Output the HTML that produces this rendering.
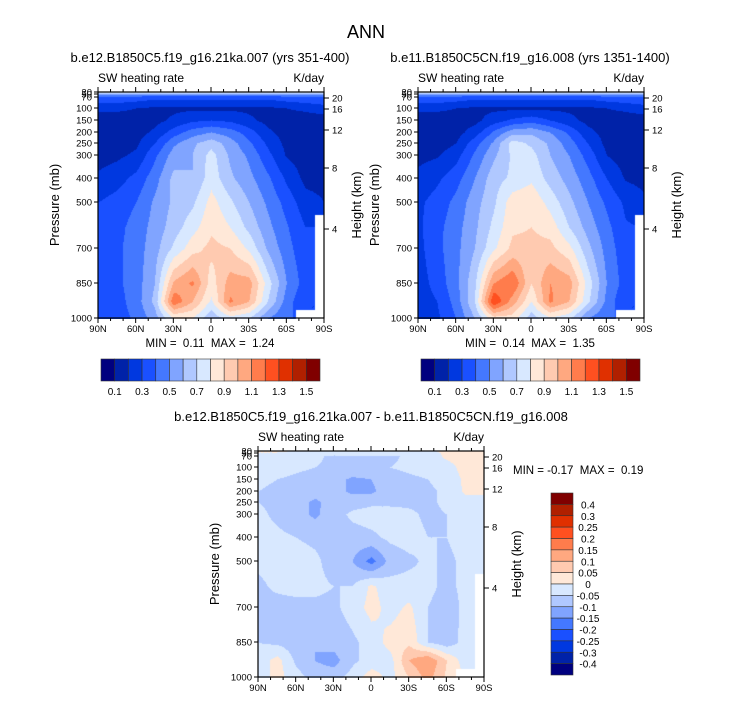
<!DOCTYPE html>
<html><head><meta charset="utf-8">
<style>
body{margin:0;background:#fff;}
#root{position:relative;width:733px;height:701px;overflow:hidden;font-family:"Liberation Sans",sans-serif;}
canvas{position:absolute;}
svg{position:absolute;left:0;top:0;}
</style></head>
<body>
<div id="root">
<canvas id="c1" width="226" height="227" style="left:98px;top:92px"></canvas>
<canvas id="c2" width="226" height="227" style="left:418px;top:92px"></canvas>
<canvas id="c3" width="226" height="227" style="left:258px;top:451px"></canvas>
<svg id="s" width="733" height="701"></svg>
</div>
<script>
// ---- data ----
const lats = [90,75,60,45,30,15,0,-15,-30,-45,-60,-75,-90];
const levels = [30,50,70,100,150,200,250,300,400,500,600,700,850,925,1000];
const N = null;
const field1 = [
[0.75,0.75,0.75,0.75,0.75,0.75,0.75,0.75,0.75,0.75,0.75,0.75,0.75],
[0.5,0.5,0.5,0.5,0.5,0.5,0.5,0.5,0.5,0.5,0.5,0.5,0.5],
[0.38,0.38,0.36,0.33,0.33,0.33,0.33,0.33,0.33,0.33,0.36,0.38,0.4],
[0.22,0.22,0.2,0.18,0.18,0.18,0.18,0.18,0.18,0.18,0.2,0.22,0.25],
[0.15,0.15,0.15,0.17,0.22,0.28,0.3,0.28,0.22,0.17,0.15,0.15,0.15],
[0.15,0.15,0.16,0.22,0.35,0.45,0.5,0.45,0.35,0.22,0.16,0.15,0.15],
[0.15,0.15,0.18,0.3,0.48,0.58,0.66,0.55,0.42,0.28,0.17,0.15,0.15],
[0.16,0.18,0.22,0.38,0.55,0.6,0.74,0.58,0.48,0.33,0.19,0.15,0.15],
[0.22,0.26,0.33,0.46,0.63,0.6,0.76,0.62,0.53,0.42,0.28,0.17,0.17],
[0.3,0.34,0.4,0.52,0.62,0.68,0.84,0.72,0.6,0.48,0.36,0.24,0.2],
[0.32,0.37,0.44,0.54,0.65,0.76,0.88,0.8,0.67,0.53,0.41,0.3,N],
[0.33,0.38,0.45,0.56,0.72,0.86,0.93,0.9,0.78,0.58,0.44,0.32,N],
[0.33,0.38,0.45,0.6,1.02,1.12,0.85,1.05,1.05,0.75,0.5,0.35,N],
[0.32,0.36,0.45,0.63,1.18,1.0,0.78,1.12,1.0,0.7,0.45,0.3,N],
[0.3,0.35,0.42,0.55,0.8,0.8,0.62,0.75,0.7,0.5,0.4,N,N]];
const field2 = [
[0.75,0.75,0.75,0.75,0.75,0.75,0.75,0.75,0.75,0.75,0.75,0.75,0.75],
[0.5,0.5,0.5,0.5,0.5,0.5,0.5,0.5,0.5,0.5,0.5,0.5,0.5],
[0.38,0.38,0.36,0.33,0.33,0.33,0.33,0.33,0.33,0.33,0.36,0.38,0.4],
[0.22,0.22,0.2,0.18,0.18,0.18,0.18,0.18,0.18,0.18,0.2,0.22,0.25],
[0.15,0.15,0.15,0.17,0.25,0.32,0.36,0.3,0.23,0.17,0.15,0.15,0.15],
[0.15,0.15,0.16,0.25,0.42,0.56,0.58,0.5,0.38,0.23,0.16,0.15,0.15],
[0.15,0.15,0.2,0.36,0.52,0.75,0.68,0.58,0.45,0.3,0.17,0.15,0.15],
[0.17,0.19,0.26,0.42,0.58,0.72,0.74,0.6,0.5,0.36,0.2,0.15,0.15],
[0.23,0.28,0.36,0.5,0.66,0.72,0.78,0.66,0.56,0.44,0.3,0.19,0.17],
[0.28,0.34,0.43,0.56,0.68,0.86,0.88,0.76,0.63,0.5,0.38,0.28,0.22],
[0.28,0.37,0.46,0.58,0.73,0.88,0.9,0.86,0.7,0.56,0.43,0.31,N],
[0.27,0.37,0.47,0.6,0.78,0.93,0.93,0.93,0.83,0.63,0.46,0.33,N],
[0.25,0.34,0.47,0.68,1.1,1.2,0.9,1.1,1.05,0.76,0.5,0.35,N],
[0.24,0.3,0.44,0.7,1.3,1.05,0.8,1.12,1.0,0.72,0.47,0.3,N],
[0.24,0.28,0.4,0.6,0.85,0.85,0.64,0.78,0.72,0.5,0.4,N,N]];
const field3 = [
[0.02,0.02,-0.02,-0.02,-0.02,-0.02,-0.02,-0.02,-0.02,-0.02,0.02,0.02,0.02],
[-0.02,-0.02,-0.02,-0.02,-0.03,-0.03,-0.03,-0.03,-0.02,-0.02,0.01,0.02,0.02],
[-0.03,-0.03,-0.03,-0.04,-0.06,-0.06,-0.06,-0.06,-0.04,-0.03,0.01,0.02,0.02],
[-0.03,-0.03,-0.04,-0.05,-0.06,-0.06,-0.06,-0.05,-0.04,-0.03,-0.02,0.02,0.02],
[-0.04,-0.05,-0.06,-0.07,-0.08,-0.11,-0.1,-0.07,-0.06,-0.05,-0.03,0.01,0.02],
[-0.05,-0.06,-0.07,-0.08,-0.08,-0.11,-0.11,-0.07,-0.06,-0.06,-0.04,0.01,0.01],
[-0.05,-0.06,-0.08,-0.11,-0.08,-0.07,-0.06,-0.06,-0.06,-0.06,-0.04,-0.02,-0.02],
[-0.04,-0.06,-0.08,-0.11,-0.07,-0.04,-0.03,-0.03,-0.04,-0.06,-0.05,-0.03,-0.03],
[-0.03,-0.04,-0.05,-0.06,-0.07,-0.07,-0.06,-0.04,-0.03,-0.05,-0.05,-0.03,-0.03],
[-0.04,-0.03,-0.03,-0.04,-0.07,-0.1,-0.17,-0.08,-0.06,-0.04,-0.06,-0.04,-0.03],
[-0.06,-0.04,-0.03,-0.04,-0.05,-0.05,0.01,-0.03,-0.03,-0.04,-0.06,-0.04,N],
[-0.06,-0.07,-0.07,-0.06,-0.06,-0.03,0.02,-0.02,0.01,-0.05,-0.07,-0.04,N],
[-0.05,-0.06,-0.08,-0.1,-0.08,-0.06,-0.03,0.02,0.04,-0.05,-0.08,-0.03,N],
[-0.03,0.02,-0.06,-0.1,-0.12,-0.06,-0.03,-0.02,0.1,0.15,0.05,-0.03,N],
[-0.03,0.02,-0.03,-0.07,-0.07,-0.03,0.03,-0.02,0.05,0.12,0.04,N,N]];
const levels1 = [0.1,0.2,0.3,0.4,0.5,0.6,0.7,0.8,0.9,1.0,1.1,1.2,1.3,1.4,1.5];
const labels1 = ["0.1","0.3","0.5","0.7","0.9","1.1","1.3","1.5"];
const levels3 = [-0.4,-0.3,-0.25,-0.2,-0.15,-0.1,-0.05,0,0.05,0.1,0.15,0.2,0.25,0.3,0.4];
const labels3 = ["-0.4","-0.3","-0.25","-0.2","-0.15","-0.1","-0.05","0","0.05","0.1","0.15","0.2","0.25","0.3","0.4"];
const colors = ["#00007f","#0022a8","#0038e0","#1a50ff","#4478ff","#80a4ff","#b0c8ff","#d8e8ff","#ffe8d8","#ffcab0","#ffa880","#ff7c4c","#ff5020","#e03000","#b02000","#800000"];
const presTicks = [30,50,70,100,150,200,250,300,400,500,700,850,1000];
const latTicks = [90,60,30,0,-30,-60,-90];
const latLabels = ["90N","60N","30N","0","30S","60S","90S"];
const hTicks = [20,16,12,8,4];

// ---- axis functions ----
const pAnchor = [[30,0],[50,2],[70,5],[100,16],[150,28],[200,40],[250,51],[300,63],[400,86],[500,110],[700,156],[850,191],[1000,226]];
function py(p){
  for(let i=0;i<pAnchor.length-1;i++){
    const a=pAnchor[i],b=pAnchor[i+1];
    if(p<=b[0]){const t=(Math.log(p)-Math.log(a[0]))/(Math.log(b[0])-Math.log(a[0]));return a[1]+t*(b[1]-a[1]);}
  }
  return 226;
}
const hAnchor=[[20,6],[16,17],[12,38],[8,76],[4,137]];
function hy(h){for(const a of hAnchor) if(a[0]===h) return a[1]; return 0;}
function lx(lat){return (90-lat)/180*226;}
function colorIdx(v,lev){let k=0;for(const l of lev) if(v>=l) k++;return k;}

function drawField(id,field,lev){
  const cv=document.getElementById(id),ctx=cv.getContext('2d');
  const img=ctx.createImageData(226,227);
  const rowY=levels.map(py), colX=lats.map(lx);
  for(let y=0;y<227;y++){
    let r=0;while(r<levels.length-2 && rowY[r+1]<y) r++;
    const ty=Math.min(1,Math.max(0,(y-rowY[r])/(rowY[r+1]-rowY[r])));
    for(let x=0;x<226;x++){
      let c=0;while(c<lats.length-2 && colX[c+1]<x) c++;
      const tx=Math.min(1,Math.max(0,(x-colX[c])/(colX[c+1]-colX[c])));
      const pts=[[field[r][c],(1-tx)*(1-ty)],[field[r][c+1],tx*(1-ty)],[field[r+1][c],(1-tx)*ty],[field[r+1][c+1],tx*ty]];
      let best=pts[0];for(const p of pts) if(p[1]>best[1]) best=p;
      const o=(y*226+x)*4;
      if(best[0]===null){img.data[o+3]=0;continue;}
      let s=0,w=0;for(const p of pts) if(p[0]!==null){s+=p[0]*p[1];w+=p[1];}
      const v=s/w;
      const hex=colors[colorIdx(v,lev)];
      img.data[o]=parseInt(hex.substr(1,2),16);img.data[o+1]=parseInt(hex.substr(3,2),16);img.data[o+2]=parseInt(hex.substr(5,2),16);img.data[o+3]=255;
    }
  }
  ctx.putImageData(img,0,0);
}
drawField('c1',field1,levels1);
drawField('c2',field2,levels1);
drawField('c3',field3,levels3);

// ---- svg overlay ----
const svg=document.getElementById('s');
const NS='http://www.w3.org/2000/svg';
function el(tag,attrs,parent){const e=document.createElementNS(NS,tag);for(const k in attrs) e.setAttribute(k,attrs[k]);(parent||svg).appendChild(e);return e;}
function txt(x,y,s,size,anchor,parent){const t=el('text',{x:x,y:y,'font-size':size,'text-anchor':anchor||'middle',fill:'#000','font-family':'Liberation Sans, sans-serif'},parent);t.textContent=s;return t;}

const t0=txt(366,38,'ANN',18);



function panel(ox,oy,title,tcx,tname,minmax,mmx,mmy,mmanchor){
  const g=el('g',{});
  
  
  const tt=txt(tcx,oy-30,title,13,'middle',g);
  
  
  const sw=txt(ox,oy-10,'SW heating rate',12,'start',g);
  
  
  const un=txt(ox+226,oy-10,'K/day',12,'end',g);
  
  
  const fr=el('rect',{x:ox,y:oy,width:226,height:226,fill:'none',stroke:'#000','stroke-width':1.2},g);
  
  
  for(const p of presTicks){
    const y=oy+py(p);
    el('line',{x1:ox-4,x2:ox,y1:y,y2:y,stroke:'#000'},g);
    const l=txt(ox-6,y+3.5,String(p),9.5,'end',g);
    
    
  }
  for(const h of hTicks){
    const y=oy+hy(h);
    el('line',{x1:ox+226,x2:ox+231,y1:y,y2:y,stroke:'#000'},g);
    const l=txt(ox+234,y+3.5,String(h),9.5,'start',g);
    
    
  }
  for(let lat=90;lat>=-90;lat-=10){
    const x=ox+lx(lat),major=lat%30===0,len=major?5:3;
    el('line',{x1:x,x2:x,y1:oy+226,y2:oy+226+len,stroke:'#000'},g);
    el('line',{x1:x,x2:x,y1:oy,y2:oy-len,stroke:'#000'},g);
  }
  latTicks.forEach((lat,i)=>{
    const l=txt(ox+lx(lat),oy+240,latLabels[i],9.5,'middle',g);
    
    
  });
  const yl=txt(0,0,'Pressure (mb)',13,'middle',g);
  yl.setAttribute('transform',`translate(${ox-39},${oy+113}) rotate(-90)`);
  
  
  const hl=txt(0,0,'Height (km)',13,'middle',g);
  hl.setAttribute('transform',`translate(${ox+263},${oy+113}) rotate(-90)`);
  
  
  const mm=txt(mmx,mmy,minmax,11.5,mmanchor,g);
  
  
  mm.setAttribute('xml:space','preserve');
  mm.style.whiteSpace='pre';
}
panel(98,92,'b.e12.B1850C5.f19_g16.21ka.007 (yrs 351-400)',210,'panel-left','MIN =  0.11  MAX =  1.24',210,347,'middle');
panel(418,92,'b.e11.B1850C5CN.f19_g16.008 (yrs 1351-1400)',530,'panel-right','MIN =  0.14  MAX =  1.35',530,347,'middle');
panel(258,451,'b.e12.B1850C5.f19_g16.21ka.007 - b.e11.B1850C5CN.f19_g16.008',371,'panel-difference','MIN = -0.17  MAX =  0.19',513,474,'start');

function hbar(x0,y0,name){
  const g=el('g',{});
  
  
  const w=219/colors.length;
  colors.forEach((c,i)=>{
    const r=el('rect',{x:x0+i*w,y:y0,width:w,height:22,fill:c,stroke:'#333','stroke-width':0.6},g);
    
    
  });
  labels1.forEach((s,i)=>{
    const l=txt(x0+(1+2*i)*w,y0+36,s,10,'middle',g);
    
    
  });
}
hbar(101,359,'colorbar-left');
hbar(421,359,'colorbar-right');

(function(){
  const g=el('g',{});
  
  
  const h=182/colors.length,x0=551,y0=493;
  for(let i=0;i<colors.length;i++){
    const r=el('rect',{x:x0,y:y0+i*h,width:22,height:h,fill:colors[colors.length-1-i],stroke:'#333','stroke-width':0.6},g);
    
    
  }
  for(let i=0;i<labels3.length;i++){
    const l=txt(588,y0+(i+1)*h+4,labels3[labels3.length-1-i],10,'middle',g);
    
    
  }
})();
</script>
</body></html>
